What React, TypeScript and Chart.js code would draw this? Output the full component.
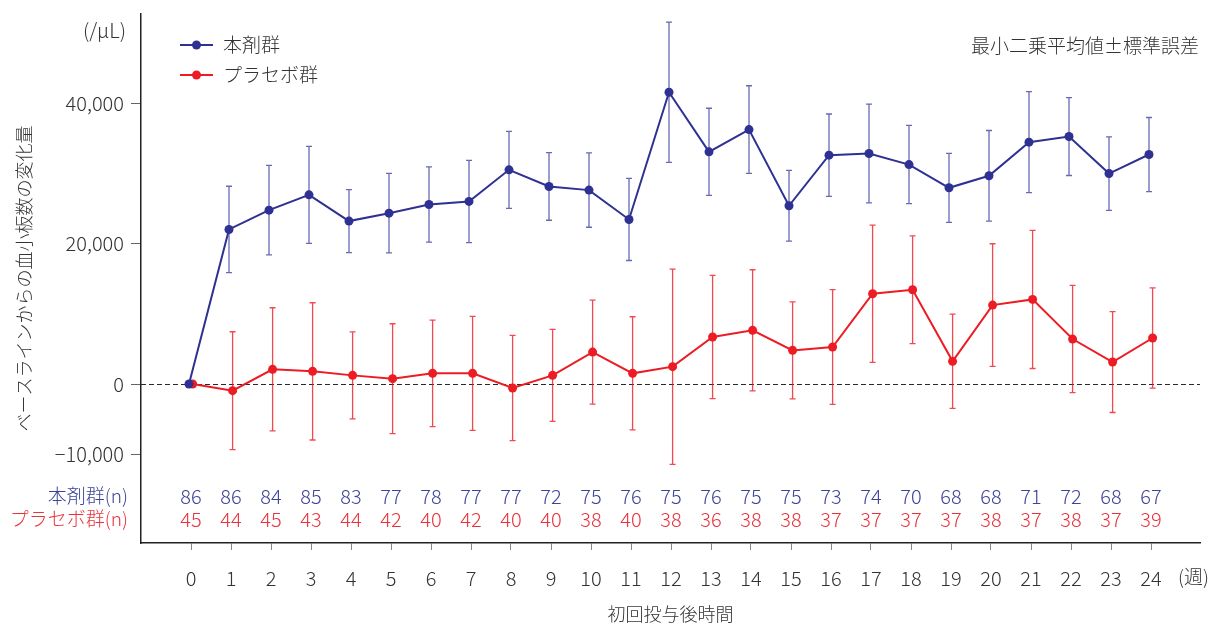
import React, { useEffect, useRef } from 'react';
import { Chart, registerables } from 'chart.js';

Chart.register(...registerables);

// ---- data ----
const weeks = [0, 1, 2, 3, 4, 5, 6, 7, 8, 9, 10, 11, 12, 13, 14, 15, 16, 17, 18, 19, 20, 21, 22, 23, 24];
const drugMean = [0, 22010, 24760, 26940, 23200, 24330, 25570, 26000, 30500, 28130, 27610, 23430, 41550, 33060, 36230, 25380, 32590, 32820, 31250, 27940, 29650, 34440, 35240, 29970, 32680];
const drugSE = [0, 6150, 6380, 6900, 4480, 5670, 5360, 5860, 5480, 4810, 5290, 5840, 9980, 6210, 6240, 5030, 5860, 7040, 5570, 4910, 6450, 7190, 5550, 5230, 5270];
const placeboMean = [0, -950, 2090, 1800, 1230, 760, 1520, 1520, -570, 1230, 4550, 1520, 2470, 6690, 7640, 4790, 5270, 12850, 13420, 3230, 11240, 12050, 6400, 3130, 6550];
const placeboSE = [0, 8390, 8770, 9770, 6190, 7820, 7580, 8110, 7500, 6550, 7400, 8060, 13900, 8780, 8630, 6920, 8160, 9770, 7680, 6710, 8730, 9840, 7640, 7190, 7130];
const drugN = [86, 86, 84, 85, 83, 77, 78, 77, 77, 72, 75, 76, 75, 76, 75, 75, 73, 74, 70, 68, 68, 71, 72, 68, 67];
const placeboN = [45, 44, 45, 43, 44, 42, 40, 42, 40, 40, 38, 40, 38, 36, 38, 38, 37, 37, 37, 37, 38, 37, 38, 37, 39];
const yTickValues = [-10000, 0, 20000, 40000];
const xTickValues = weeks;
const seriesLabels = ['本剤群', 'プラセボ群'];
const nRowLabels = ['本剤群(n)', 'プラセボ群(n)'];

// ---- style ----
const BLUE = '#2e3192';
const RED = '#ed1c24';
const BLUE_BAR = 'rgba(60,64,160,0.78)';
const RED_BAR = 'rgba(237,28,36,0.8)';
const BLUE_TEXT = '#3f4399';
const RED_TEXT = '#e8333b';
const TEXT = '#333333';
const FONT = "'Noto Sans CJK JP', 'Noto Sans', sans-serif";
const W = '300';
const DRUG_SHIFT = -0.05;
const PLACEBO_SHIFT = 0.04;

function fmtTick(v: number): string {
  if (v === 0) return '0';
  const s = Math.abs(v).toLocaleString('en-US');
  return v < 0 ? '\u2212' + s : s;
}

const overlay = {
  id: 'overlay',
  beforeDatasetsDraw(chart: any) {
    const { ctx, chartArea, scales } = chart;
    const y = scales.y;
    ctx.save();
    // zero reference line
    const y0 = Math.round(y.getPixelForValue(0)) + 0.5;
    ctx.strokeStyle = '#2a2a2a';
    ctx.lineWidth = 1;
    ctx.setLineDash([5, 3]);
    ctx.beginPath();
    ctx.moveTo(chartArea.left, y0);
    ctx.lineTo(chartArea.right, y0);
    ctx.stroke();
    ctx.setLineDash([]);
    // error bars
    chart.data.datasets.forEach((ds: any, di: number) => {
      const meta = chart.getDatasetMeta(di);
      ctx.strokeStyle = ds.errorColor;
      ctx.lineWidth = 1.3;
      meta.data.forEach((pt: any, i: number) => {
        const se = ds.errorBars[i];
        if (!se) return;
        const m = ds.data[i].y;
        const top = y.getPixelForValue(m + se);
        const bot = y.getPixelForValue(m - se);
        const px = pt.x;
        ctx.beginPath();
        ctx.moveTo(px, top);
        ctx.lineTo(px, bot);
        ctx.moveTo(px - 3, top);
        ctx.lineTo(px + 3, top);
        ctx.moveTo(px - 3, bot);
        ctx.lineTo(px + 3, bot);
        ctx.stroke();
      });
    });
    ctx.restore();
  },
  afterDraw(chart: any) {
    const { ctx, scales } = chart;
    const x = scales.x;
    ctx.save();
    ctx.textBaseline = 'middle';
    // n table
    ctx.font = `${W} 20px ${FONT}`;
    ctx.textAlign = 'center';
    weeks.forEach((w, i) => {
      const px = x.getPixelForValue(w);
      ctx.fillStyle = BLUE_TEXT;
      ctx.fillText(String(drugN[i]), px, 496);
      ctx.fillStyle = RED_TEXT;
      ctx.fillText(String(placeboN[i]), px, 519);
    });
    ctx.font = `${W} 19px ${FONT}`;
    ctx.textAlign = 'right';
    ctx.fillStyle = BLUE_TEXT;
    ctx.fillText(nRowLabels[0], 128, 496);
    ctx.fillStyle = RED_TEXT;
    ctx.fillText(nRowLabels[1], 128, 519);
    // unit
    ctx.fillStyle = TEXT;
    ctx.font = `${W} 20px ${FONT}`;
    ctx.fillText('(/μL)', 126, 30);
    // annotation
    ctx.font = `${W} 19px ${FONT}`;
    ctx.fillText('最小二乗平均値±標準誤差', 1199, 46);
    // week unit
    ctx.textAlign = 'left';
    ctx.font = `${W} 19px ${FONT}`;
    ctx.fillText('(週)', 1178, 577);
    // legend
    const legendColors = [BLUE, RED];
    seriesLabels.forEach((lab, i) => {
      const ly = 45 + i * 30;
      ctx.strokeStyle = legendColors[i];
      ctx.lineWidth = 2;
      ctx.beginPath();
      ctx.moveTo(180, ly);
      ctx.lineTo(213, ly);
      ctx.stroke();
      ctx.fillStyle = legendColors[i];
      ctx.beginPath();
      ctx.arc(196.5, ly, 4.5, 0, Math.PI * 2);
      ctx.fill();
      ctx.fillStyle = TEXT;
      ctx.font = `${W} 19px ${FONT}`;
      ctx.fillText(lab, 223, ly);
    });
    ctx.restore();
  },
};

export default function App() {
  const ref = useRef<HTMLCanvasElement | null>(null);
  useEffect(() => {
    document.body.style.margin = '0';
    const canvas = ref.current;
    if (!canvas) return;
    const chart = new Chart(canvas, {
      type: 'line',
      data: {
        datasets: [
          {
            label: seriesLabels[0],
            data: weeks.map((w, i) => ({ x: w + DRUG_SHIFT, y: drugMean[i] })),
            borderColor: BLUE,
            backgroundColor: BLUE,
            pointBackgroundColor: BLUE,
            pointBorderWidth: 0,
            pointRadius: 4.5,
            borderWidth: 2,
            tension: 0,
            errorBars: drugSE,
            errorColor: BLUE_BAR,
          } as any,
          {
            label: seriesLabels[1],
            data: weeks.map((w, i) => ({ x: w + PLACEBO_SHIFT, y: placeboMean[i] })),
            borderColor: RED,
            backgroundColor: RED,
            pointBackgroundColor: RED,
            pointBorderWidth: 0,
            pointRadius: 4.5,
            borderWidth: 2,
            tension: 0,
            errorBars: placeboSE,
            errorColor: RED_BAR,
          } as any,
        ],
      },
      options: {
        responsive: false,
        animation: false,
        layout: { padding: { left: 0, right: 15, top: 14, bottom: 0 } },
        plugins: { legend: { display: false }, tooltip: { enabled: false } },
        scales: {
          x: {
            type: 'linear',
            min: -1.25,
            max: 25.225,
            afterBuildTicks: (s: any) => {
              s.ticks = xTickValues.map((v) => ({ value: v }));
            },
            afterFit: (s: any) => {
              s.height = 82;
              s.paddingLeft = 0;
              s.paddingRight = 0;
            },
            grid: { drawOnChartArea: false, drawTicks: true, tickLength: 7, color: '#888', lineWidth: 1 },
            border: { display: true, color: '#222', width: 1.5 },
            ticks: {
              padding: 16,
              color: TEXT,
              autoSkip: false,
              maxRotation: 0,
              font: { family: FONT, size: 20, weight: W },
              callback: (v: any) => String(v),
            },
            title: {
              display: true,
              text: '初回投与後時間',
              color: TEXT,
              font: { family: FONT, size: 18, weight: W },
              padding: { top: 0, bottom: 0 },
            },
          },
          y: {
            min: -22640,
            max: 52690,
            afterBuildTicks: (s: any) => {
              s.ticks = yTickValues.map((v) => ({ value: v }));
            },
            afterFit: (s: any) => {
              s.width = 141;
              s.paddingTop = 0;
              s.paddingBottom = 0;
            },
            grid: { drawOnChartArea: false, drawTicks: true, tickLength: 10, color: '#666', lineWidth: 1 },
            border: { display: true, color: '#222', width: 1.5 },
            ticks: {
              padding: 7,
              color: TEXT,
              font: { family: FONT, size: 20, weight: W },
              callback: (v: any) => fmtTick(Number(v)),
            },
            title: {
              display: true,
              text: 'ベースラインからの血小板数の変化量',
              color: TEXT,
              font: { family: FONT, size: 18, weight: W },
              padding: { top: 13, bottom: 0 },
            },
          },
        },
      } as any,
      plugins: [overlay],
    });
    return () => chart.destroy();
  }, []);
  return (
    <div style={{ position: 'absolute', left: 0, top: 0, width: 1215, height: 625 }}>
      <canvas ref={ref} width={1215} height={625} style={{ display: 'block', width: 1215, height: 625 }} />
    </div>
  );
}
